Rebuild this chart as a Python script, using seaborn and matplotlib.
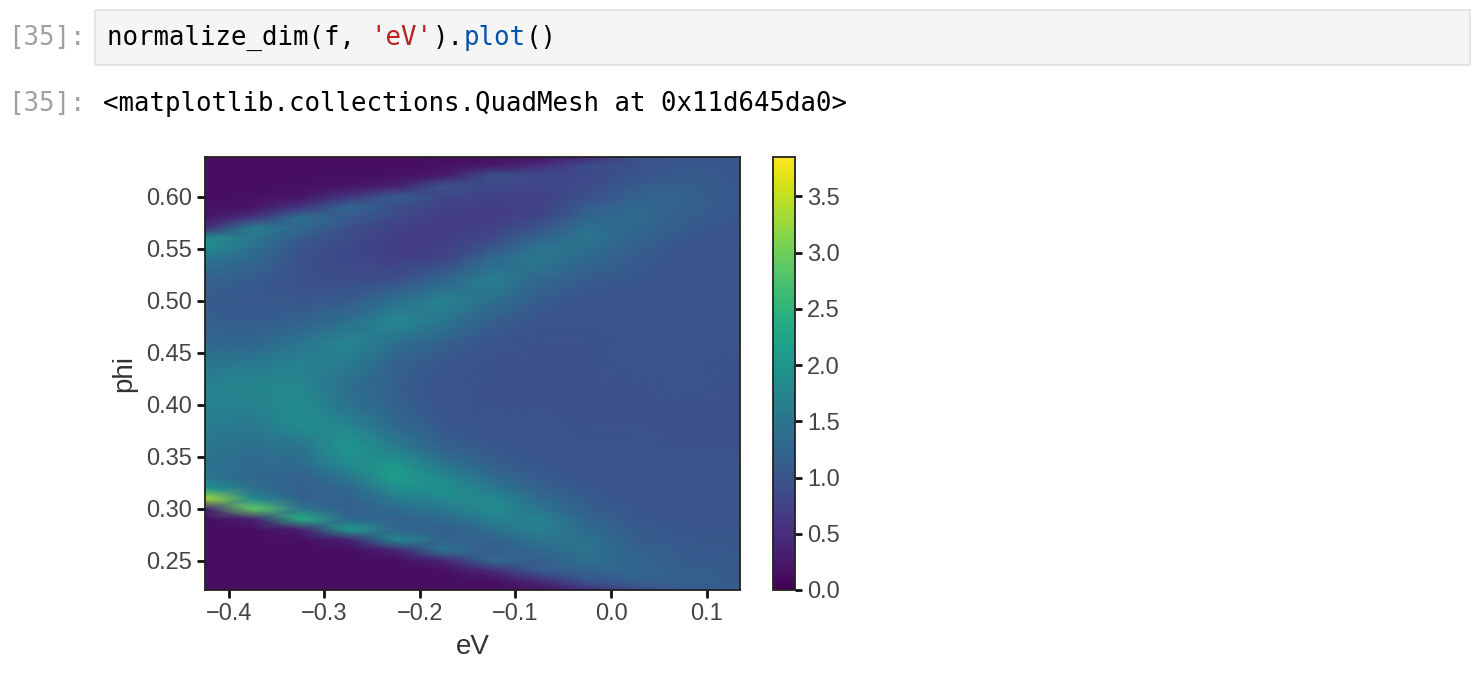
import numpy as np
import matplotlib
matplotlib.use("Agg")
import matplotlib.pyplot as plt
import seaborn as sns
from matplotlib.patches import Rectangle

# grid of the measured map: eV along x, phi along y (top row first)
ev_values = [-0.425, -0.375, -0.325, -0.275, -0.225, -0.175,
             -0.125, -0.075, -0.025, 0.025, 0.075, 0.135]
phi_values = [0.638, 0.63, 0.62, 0.61, 0.60, 0.59, 0.58, 0.57, 0.56, 0.55, 0.54,
              0.52, 0.50, 0.48, 0.46, 0.44, 0.42, 0.40, 0.38, 0.36,
              0.34, 0.33, 0.32, 0.31, 0.30, 0.29, 0.28, 0.27, 0.26, 0.25, 0.24, 0.23, 0.222]

# normalized intensity, one profile (top -> bottom) per eV value
profiles = [
    # eV -0.425
    [0.15, 0.15, 0.15, 0.15, 0.15, 0.18, 0.20, 0.50, 1.90, 1.80, 1.50,
     1.20, 1.10, 1.15, 1.30, 1.50, 1.70, 1.70, 1.60, 1.50,
     1.45, 1.50, 2.00, 3.30, 0.40, 0.15, 0.15, 0.15, 0.15, 0.15, 0.15, 0.15, 0.15],
    # eV -0.375
    [0.15, 0.15, 0.15, 0.15, 0.17, 0.20, 0.60, 1.60, 1.55, 1.40, 1.30,
     1.10, 1.05, 1.10, 1.25, 1.55, 1.75, 1.70, 1.55, 1.40,
     1.30, 1.30, 1.40, 1.80, 2.90, 0.35, 0.15, 0.15, 0.15, 0.15, 0.15, 0.15, 0.15],
    # eV -0.325
    [0.15, 0.15, 0.15, 0.17, 0.20, 0.60, 1.40, 1.30, 1.10, 1.00, 0.95,
     0.95, 1.05, 1.20, 1.50, 1.70, 1.75, 1.85, 1.85, 1.50,
     1.30, 1.20, 1.15, 1.20, 1.50, 2.40, 0.35, 0.15, 0.15, 0.15, 0.15, 0.15, 0.15],
    # eV -0.275
    [0.15, 0.15, 0.16, 0.20, 0.60, 1.25, 1.10, 0.95, 0.88, 0.85, 0.85,
     0.90, 1.10, 1.40, 1.75, 1.60, 1.40, 1.45, 1.75, 2.05,
     1.80, 1.50, 1.30, 1.20, 1.15, 1.30, 2.10, 0.35, 0.15, 0.15, 0.15, 0.15, 0.15],
    # eV -0.225
    [0.15, 0.15, 0.18, 0.35, 1.10, 0.95, 0.85, 0.75, 0.70, 0.70, 0.72,
     0.95, 1.40, 1.80, 1.45, 1.20, 1.15, 1.20, 1.30, 1.60,
     2.10, 2.15, 1.90, 1.60, 1.35, 1.20, 1.30, 1.80, 0.40, 0.15, 0.15, 0.15, 0.15],
    # eV -0.175
    [0.15, 0.17, 0.30, 1.00, 0.85, 0.75, 0.70, 0.68, 0.68, 0.72, 0.80,
     1.25, 1.70, 1.50, 1.20, 1.05, 1.00, 1.00, 1.05, 1.20,
     1.55, 1.80, 1.95, 1.80, 1.55, 1.30, 1.15, 1.20, 1.50, 0.40, 0.15, 0.15, 0.15],
    # eV -0.125
    [0.16, 0.25, 0.95, 0.85, 0.75, 0.70, 0.70, 0.75, 0.85, 1.05, 1.30,
     1.65, 1.40, 1.15, 1.00, 0.95, 0.95, 0.95, 1.00, 1.05,
     1.20, 1.35, 1.55, 1.80, 1.85, 1.65, 1.40, 1.20, 1.10, 1.30, 0.45, 0.15, 0.15],
    # eV -0.075
    [0.20, 0.50, 0.85, 0.80, 0.75, 0.75, 0.82, 1.00, 1.25, 1.50, 1.55,
     1.30, 1.10, 1.00, 0.95, 0.95, 0.95, 0.95, 1.00, 1.00,
     1.05, 1.10, 1.20, 1.35, 1.50, 1.70, 1.70, 1.50, 1.30, 1.15, 1.10, 0.45, 0.20],
    # eV -0.025
    [0.45, 0.90, 0.85, 0.88, 0.95, 1.10, 1.25, 1.40, 1.50, 1.40, 1.30,
     1.10, 1.00, 1.00, 0.95, 0.95, 0.95, 0.95, 0.95, 1.00,
     1.00, 1.00, 1.05, 1.10, 1.15, 1.25, 1.35, 1.45, 1.50, 1.40, 1.20, 1.00, 0.50],
    # eV 0.025
    [0.95, 0.95, 1.00, 1.10, 1.20, 1.30, 1.35, 1.30, 1.25, 1.15, 1.10,
     1.05, 1.00, 1.00, 1.00, 1.00, 0.95, 0.95, 0.95, 1.00,
     1.00, 1.00, 1.00, 1.00, 1.05, 1.05, 1.10, 1.15, 1.20, 1.25, 1.30, 1.15, 0.90],
    # eV 0.075
    [1.00, 1.05, 1.10, 1.15, 1.20, 1.20, 1.15, 1.10, 1.05, 1.00, 1.00,
     1.00, 1.00, 1.00, 1.00, 1.00, 1.00, 0.95, 0.95, 0.95,
     1.00, 1.00, 1.00, 1.00, 1.00, 1.00, 1.05, 1.05, 1.10, 1.10, 1.15, 1.15, 1.10],
    # eV 0.135
    [1.05, 1.05, 1.05, 1.05, 1.05, 1.05, 1.05, 1.00, 1.00, 1.00, 1.00,
     1.00, 1.00, 1.00, 1.00, 0.95, 0.95, 0.95, 0.95, 0.95,
     1.00, 1.00, 1.00, 1.00, 1.00, 1.00, 1.05, 1.05, 1.05, 1.10, 1.10, 1.10, 1.10],
]

cbar_ticks = [0.0, 0.5, 1.0, 1.5, 2.0, 2.5, 3.0, 3.5]
x_ticks = [-0.4, -0.3, -0.2, -0.1, 0.0, 0.1]
y_ticks = [0.25, 0.30, 0.35, 0.40, 0.45, 0.50, 0.55, 0.60]

sns.set_style("ticks")
plt.rcParams['font.family'] = ['Liberation Sans Narrow', 'Liberation Sans', 'DejaVu Sans']
plt.rcParams['axes.unicode_minus'] = True

fig = plt.figure(figsize=(14.8, 6.86), dpi=100)

# notebook chrome: input cell and output line
mono = 'DejaVu Sans Mono'
fs_code = 18.5
cw = 15.5 / 1480  # width of one monospace char in figure coords
fig.patches.append(Rectangle((95 / 1480, 1 - 65 / 686), 1375 / 1480, 55 / 686,
                             transform=fig.transFigure, facecolor='#f5f5f5',
                             edgecolor='#e0e0e0', linewidth=1.2))
y_in = 1 - 38 / 686
y_out = 1 - 104 / 686
fig.text(8 / 1480, y_in, '[35]:', family=mono, fontsize=fs_code, color='#a0a0a0', va='center')
fig.text(8 / 1480, y_out, '[35]:', family=mono, fontsize=fs_code, color='#a0a0a0', va='center')
x0 = 107 / 1480
pieces = [("normalize_dim(f, ", '#000000'), ("'eV'", '#ba2121'), (").", '#000000'),
          ("plot", '#0055aa'), ("()", '#000000')]
pos = 0
for txt, col in pieces:
    fig.text(x0 + pos * cw, y_in, txt, family=mono, fontsize=fs_code, color=col, va='center')
    pos += len(txt)
fig.text(103 / 1480, y_out, '<matplotlib.collections.QuadMesh at 0x11d645da0>',
         family=mono, fontsize=fs_code, color='#000000', va='center')

# heatmap axes and colorbar
ax = fig.add_axes([205 / 1480, 96 / 686, 535 / 1480, 433 / 686])
cax = fig.add_axes([773 / 1480, 96 / 686, 22 / 1480, 433 / 686])

X, Y = np.meshgrid(ev_values, phi_values)
C = np.array(profiles).T
mesh = ax.pcolormesh(X, Y, C, shading='gouraud', cmap='viridis', vmin=0, vmax=3.85)
ax.set_xlim(-0.425, 0.135)
ax.set_ylim(0.222, 0.638)
ax.set_xticks(x_ticks)
ax.set_yticks(y_ticks)
ax.set_xticklabels([f'{v:.1f}'.replace('-', '\u2212') for v in x_ticks])
ax.set_yticklabels([f'{v:.2f}' for v in y_ticks])
ax.set_xlabel('eV', fontsize=20, color='#333333', labelpad=6)
ax.set_ylabel('phi', fontsize=20, color='#333333', labelpad=6)
ax.tick_params(axis='both', labelsize=17, colors='#111111', labelcolor='#444444',
               length=6, width=2)
for sp in ax.spines.values():
    sp.set_visible(True)
    sp.set_linewidth(1.3)
    sp.set_color('#222222')

cb = fig.colorbar(mesh, cax=cax, ticks=cbar_ticks)
cb.ax.set_yticklabels([f'{v:.1f}' for v in cbar_ticks])
cb.ax.tick_params(labelsize=17, colors='#111111', labelcolor='#444444', length=5, width=2)
cb.outline.set_linewidth(1.3)
cb.outline.set_edgecolor('#222222')

fig.savefig('out.png', dpi=100)
